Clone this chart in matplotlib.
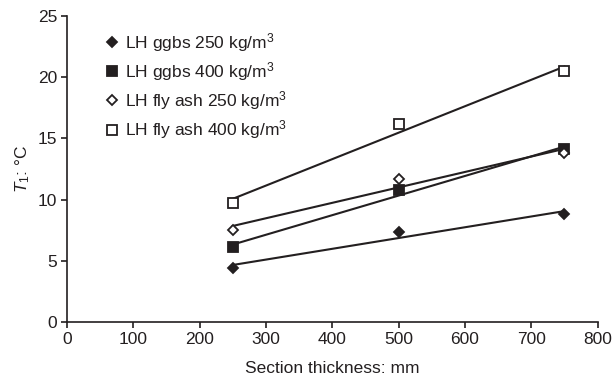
import matplotlib.pyplot as plt
import numpy as np

plt.rcParams['font.family'] = ['Liberation Sans', 'DejaVu Sans']
plt.rcParams['mathtext.fontset'] = 'custom'
plt.rcParams['mathtext.rm'] = 'Liberation Sans'
plt.rcParams['mathtext.it'] = 'Liberation Sans:italic'

# data
thickness = [250, 500, 750]
ggbs_250 = [4.4, 7.4, 8.8]
ggbs_400 = [6.1, 10.8, 14.1]
flyash_250 = [7.5, 11.7, 13.8]
flyash_400 = [9.7, 16.2, 20.5]

labels = ['LH ggbs 250 kg/m$^3$', 'LH ggbs 400 kg/m$^3$',
          'LH fly ash 250 kg/m$^3$', 'LH fly ash 400 kg/m$^3$']
series = [ggbs_250, ggbs_400, flyash_250, flyash_400]
markers = ['D', 's', 'D', 's']
fills = ['#231f20', '#231f20', 'white', 'white']
sizes = [5, 6.5, 5, 6.5]
col = '#231f20'
fs = 12.5

fig = plt.figure(figsize=(6.13, 3.79), dpi=100)
ax = fig.add_axes([0.109, 0.150, 0.866, 0.808])

x = np.array(thickness, dtype=float)
for ys, m, fc, ms, lab in zip(series, markers, fills, sizes, labels):
    # linear trend line
    fit = np.polyfit(x, ys, 1)
    ax.plot(x[[0, -1]], np.polyval(fit, x[[0, -1]]), color=col, lw=1.5, zorder=2)
    ax.plot(x, ys, linestyle='none', marker=m, ms=ms, mfc=fc, mec=col,
            mew=1.3, label=lab, zorder=3)

ax.set_xlim(0, 800)
ax.set_ylim(0, 25)
ax.set_xticks(np.arange(0, 801, 100))
ax.set_yticks(np.arange(0, 26, 5))
ax.spines['top'].set_visible(False)
ax.spines['right'].set_visible(False)
for s in ['left', 'bottom']:
    ax.spines[s].set_color(col)
    ax.spines[s].set_linewidth(1.2)
ax.tick_params(direction='out', length=4, width=1.2, color=col,
               labelsize=fs, labelcolor=col, pad=3)

ax.set_xlabel('Section thickness: mm', fontsize=fs, color=col, labelpad=10)
ax.set_ylabel('$T_1$: °C', fontsize=fs, color=col, labelpad=4)

leg = ax.legend(loc='upper left', bbox_to_anchor=(0.05, 0.985), frameon=False,
                fontsize=fs, handletextpad=0.3, handlelength=0.9,
                labelspacing=0.36, labelcolor=col, borderaxespad=0.2)

fig.savefig('out.png', dpi=100)
